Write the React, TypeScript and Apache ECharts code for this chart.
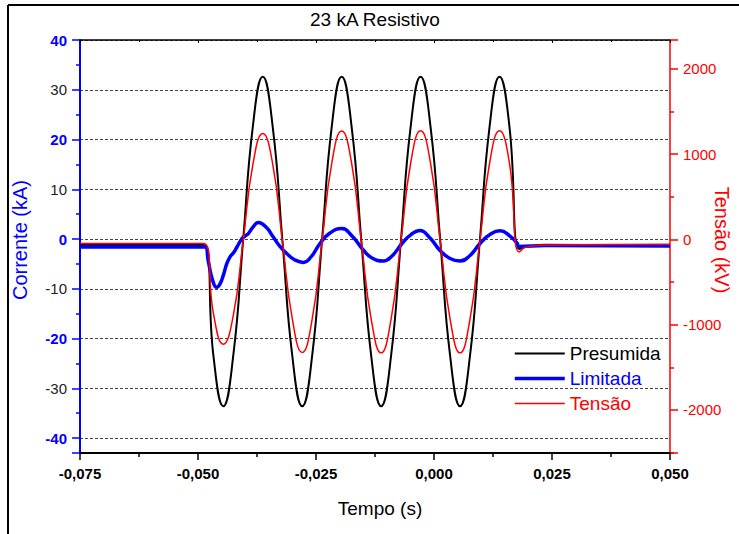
import React, { useEffect, useRef } from "react";
import * as echarts from "echarts";

// Tempo (s) shared by Presumida and Tensão
const tempo = [
  -0.075, -0.04882, -0.04673, -0.04464, -0.04255, -0.04046, -0.03837, -0.03628, -0.03419, -0.0321,
  -0.03001, -0.02792, -0.02583, -0.02374, -0.02165, -0.01956, -0.01747, -0.01538, -0.01329, -0.0112,
  -0.00911, -0.00702, -0.00493, -0.00284, -0.00075, 0.00134, 0.00343, 0.00552, 0.00761, 0.0097,
  0.01179, 0.01388, 0.01597, 0.01806, 0.0195, 0.023, 0.05,
];

// Corrente presumida (kA)
const presumida = [
  -1.2, -1.2, -23.5, -33.6, -23.6, -0.5, 22.7, 32.6, 22.7, -0.5,
  -23.6, -33.6, -23.6, -0.5, 22.7, 32.6, 22.7, -0.5, -23.6, -33.6,
  -23.6, -0.5, 22.7, 32.6, 22.7, -0.5, -23.6, -33.6, -23.6, -0.5,
  22.7, 32.6, 22.7, -2.0, -1.5, -1.3, -1.3,
];

// Tensão (kV)
const tensao = [
  -47, -47, -870, -1229, -900, -30, 880, 1244, 890, -30,
  -935, -1326, -940, -30, 898, 1271, 900, -30, -940, -1330,
  -940, -30, 900, 1275, 900, -30, -940, -1330, -940, -30,
  900, 1275, 900, -146, -90, -67, -55,
];

// Corrente limitada
const limitadaTempo = [
  -0.075, -0.04852, -0.04782, -0.04689, -0.04604, -0.04534, -0.04464, -0.04392, -0.04322, -0.04252,
  -0.04174, -0.04074, -0.04004, -0.03934, -0.03835, -0.03723, -0.03559, -0.03405, -0.03263, -0.03121,
  -0.02945, -0.02769, -0.02606, -0.02415, -0.02204, -0.01956, -0.01737, -0.01498, -0.01314, -0.01074,
  -0.0089, -0.00678, -0.00487, -0.00297, -0.00085, 0.00127, 0.00339, 0.00551, 0.00763, 0.00974,
  0.01186, 0.01398, 0.0161, 0.01758, 0.01801, 0.02352, 0.05,
];
const limitada = [
  -1.6, -1.6, -4.5, -8.3, -9.7, -9.0, -7.3, -5.0, -3.6, -2.8,
  -1.6, 0.0, 0.6, 1.1, 2.4, 3.3, 2.4, 0.4, -1.5, -2.9,
  -4.2, -4.7, -3.6, -0.9, 1.2, 2.1, 0.6, -2.2, -3.8, -4.4,
  -3.4, -0.9, 0.9, 1.7, 0.2, -2.3, -3.9, -4.4, -3.3, -0.9,
  0.9, 1.65, 0.6, -0.8, -1.5, -1.3, -1.4,
];

const FONT = 'Arial, "Liberation Sans", sans-serif';
const BLUE = "#0000ff";
const RED = "#ff0000";

export default function App() {
  const ref = useRef<HTMLDivElement>(null);
  useEffect(() => {
    if (!ref.current) return;
    const chart = echarts.init(ref.current, undefined, { renderer: "svg" });
    const xFmt = (v: number) => v.toFixed(3).replace(".", ",");
    const xBase: any = {
      type: "value",
      min: -0.075,
      max: 0.05,
      interval: 0.025,
      splitLine: { show: false },
    };
    chart.setOption({
      animation: false,
      backgroundColor: "#ffffff",
      grid: { left: 80, right: 69, top: 40, bottom: 81, containLabel: false },
      graphic: [
        { type: "line", shape: { x1: 8, y1: 5, x2: 739, y2: 5 }, style: { stroke: "#000", lineWidth: 2 } },
        { type: "line", shape: { x1: 8, y1: 5, x2: 8, y2: 534 }, style: { stroke: "#000", lineWidth: 2 } },
        {
          type: "text", x: 375, y: 19,
          style: { text: "23 kA Resistivo", fill: "#000", font: `19px ${FONT}`, align: "center", verticalAlign: "middle", textAlign: "center", textVerticalAlign: "middle" },
        },
        {
          type: "text", x: 380, y: 508,
          style: { text: "Tempo (s)", fill: "#000", font: `19px ${FONT}`, align: "center", verticalAlign: "middle", textAlign: "center", textVerticalAlign: "middle" },
        },
        {
          type: "text", x: 20, y: 240, rotation: Math.PI / 2,
          style: { text: "Corrente (kA)", fill: BLUE, font: `20px ${FONT}`, align: "center", verticalAlign: "middle", textAlign: "center", textVerticalAlign: "middle" },
        },
        {
          type: "text", x: 722, y: 240, rotation: -Math.PI / 2,
          style: { text: "Tensão (kV)", fill: RED, font: `20px ${FONT}`, align: "center", verticalAlign: "middle", textAlign: "center", textVerticalAlign: "middle" },
        },
      ],
      legend: {
        orient: "vertical",
        left: 513,
        top: 344,
        padding: 0,
        itemWidth: 50,
        itemHeight: 14,
        itemGap: 6,
        textStyle: { fontSize: 19, fontFamily: FONT },
        data: [
          { name: "Presumida", textStyle: { color: "#000" }, lineStyle: { width: 2, color: "#000" }, itemStyle: { opacity: 0 } },
          { name: "Limitada", textStyle: { color: BLUE }, lineStyle: { width: 3.5, color: BLUE }, itemStyle: { opacity: 0 } },
          { name: "Tensão", textStyle: { color: RED }, lineStyle: { width: 1.5, color: RED }, itemStyle: { opacity: 0 } },
        ],
      },
      xAxis: [
        {
          ...xBase,
          position: "bottom",
          axisLine: { show: true, onZero: false, lineStyle: { color: "#000", width: 2 } },
          axisTick: { show: true, inside: false, length: 7, lineStyle: { color: "#000", width: 1.5 } },
          minorTick: { show: true, splitNumber: 2, length: 4, lineStyle: { color: "#000", width: 1.5 } },
          axisLabel: { formatter: xFmt, color: "#000", fontWeight: "bold", fontSize: 15, fontFamily: FONT, margin: 13 },
        },
        {
          ...xBase,
          position: "top",
          axisLine: { show: true, onZero: false, lineStyle: { color: "#000", width: 1.5 } },
          axisTick: { show: true, inside: true, length: 3, lineStyle: { color: "#000" } },
          minorTick: { show: true, splitNumber: 2, length: 2, lineStyle: { color: "#000" } },
          axisLabel: { show: false },
        },
      ],
      yAxis: [
        {
          type: "value",
          min: -43,
          max: 40,
          splitNumber: 8,
          position: "left",
          axisLine: { show: true, onZero: false, lineStyle: { color: BLUE, width: 2 } },
          axisTick: { show: true, length: 8, lineStyle: { color: BLUE, width: 1.5 } },
          minorTick: { show: true, splitNumber: 2, length: 4, lineStyle: { color: BLUE, width: 1.5 } },
          axisLabel: {
            margin: 13,
            fontFamily: FONT,
            fontSize: 15,
            formatter: (v: number) => {
              if (Math.abs(v % 10) > 1e-6) return "";
              return Math.abs(v % 20) < 1e-6 ? `{b|${v}}` : `{n|${v}}`;
            },
            rich: {
              b: { color: BLUE, fontWeight: "bold", fontSize: 15, fontFamily: FONT },
              n: { color: "#222", fontSize: 15, fontFamily: FONT },
            },
          },
          splitLine: { show: true, lineStyle: { color: "#444", width: 1, type: [3, 2] } },
        },
        {
          type: "value",
          min: -2505,
          max: 2340,
          splitNumber: 5,
          position: "right",
          axisLine: { show: true, onZero: false, lineStyle: { color: RED, width: 1.5 } },
          axisTick: { show: true, length: 8, lineStyle: { color: RED, width: 1.5 } },
          minorTick: { show: true, splitNumber: 2, length: 4, lineStyle: { color: RED, width: 1.5 } },
          axisLabel: {
            margin: 13,
            color: RED,
            fontSize: 15,
            fontFamily: FONT,
            formatter: (v: number) => (Math.abs(v % 1000) < 1e-6 ? String(v) : ""),
          },
          splitLine: { show: false },
        },
      ],
      series: [
        {
          name: "Presumida",
          type: "line",
          xAxisIndex: 0,
          yAxisIndex: 0,
          data: tempo.map((t, i) => [t, presumida[i]]),
          symbol: "none",
          showSymbol: false,
          smooth: 0.5,
          lineStyle: { color: "#000", width: 2 },
          itemStyle: { color: "#000" },
          z: 2,
        },
        {
          name: "Limitada",
          type: "line",
          xAxisIndex: 0,
          yAxisIndex: 0,
          data: limitadaTempo.map((t, i) => [t, limitada[i]]),
          symbol: "none",
          showSymbol: false,
          smooth: 0.5,
          lineStyle: { color: BLUE, width: 3.5 },
          itemStyle: { color: BLUE },
          z: 3,
        },
        {
          name: "Tensão",
          type: "line",
          xAxisIndex: 0,
          yAxisIndex: 1,
          data: tempo.map((t, i) => [t, tensao[i]]),
          symbol: "none",
          showSymbol: false,
          smooth: 0.5,
          lineStyle: { color: RED, width: 1.5 },
          itemStyle: { color: RED },
          z: 4,
        },
      ],
    });
    return () => chart.dispose();
  }, []);
  return (
    <div
      ref={ref}
      style={{ position: "absolute", left: 0, top: 0, width: 739, height: 534, background: "#fff" }}
    />
  );
}
